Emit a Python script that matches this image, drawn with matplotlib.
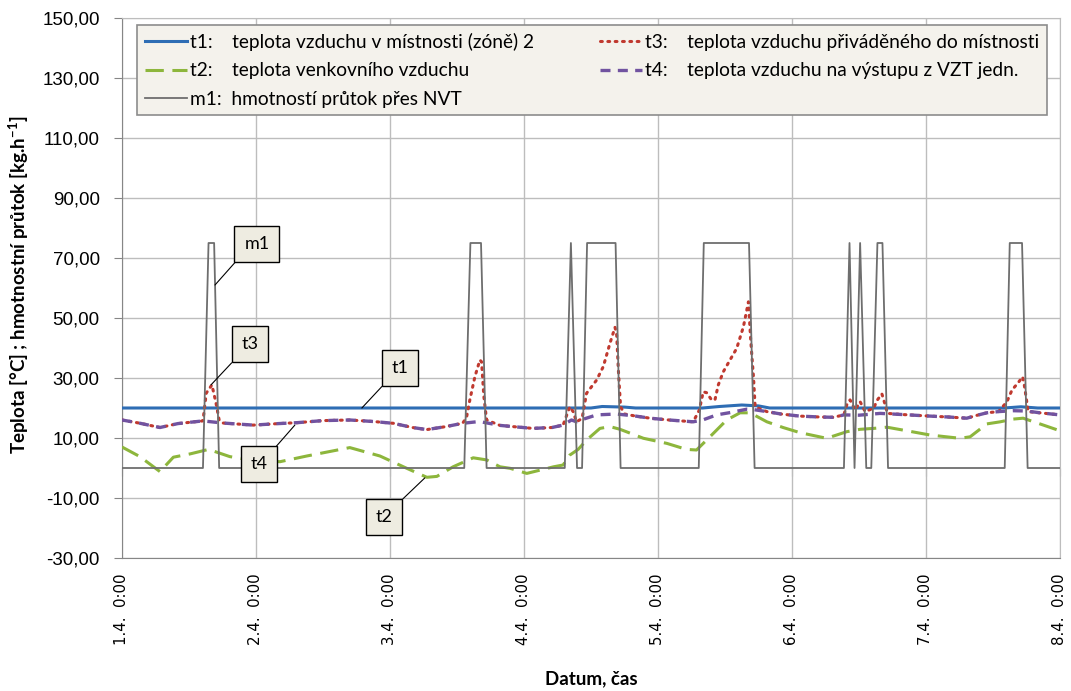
import numpy as np
import matplotlib
matplotlib.use("Agg")
import matplotlib.pyplot as plt
from matplotlib.lines import Line2D

# data (time in hours from 1.4. 0:00)
t1_h = [0, 84, 86, 90, 92, 104, 107, 111, 114, 116, 158, 161, 164, 168]
t1_v = [20, 20, 20.5, 20.3, 20, 20, 20.5, 21, 20.7, 20, 20, 20.4, 20, 20]

t2_h = [0, 3.2, 6.8, 9.2, 12.2, 15.5, 19.3, 22.9, 28.3, 33.1, 40.8, 46.2, 51, 54.6,
        56.4, 59.3, 62.9, 65.3, 67.7, 69.5, 72.5, 77.3, 79, 80.2, 81.7, 83.2, 85.6,
        87.4, 89.2, 93.4, 97.6, 101.1, 102.9, 105.3, 108.3, 110.7, 112.5, 115.5,
        118.4, 121.4, 126.2, 129.8, 132.2, 134.6, 137, 140.6, 144.7, 150.1, 151.9,
        154.9, 157.3, 159.6, 161.4, 164.4, 168]
t2_v = [7, 3.8, -1.2, 3.6, 4.7, 6.2, 3.8, 2.7, 2.1, 4, 6.8, 4, -0.1, -3.1,
        -2.8, 0.4, 3.4, 2.7, 0.4, -0.1, -1.8, 0.4, 1, 4.3, 6.2, 9.3, 13.2,
        13.8, 12.9, 9.9, 8.2, 6.2, 6, 10.4, 16, 18.4, 18.4, 15.4,
        13.5, 11.8, 9.9, 12.1, 12.9, 13.2, 13.6, 12.4, 11, 9.9, 10.4,
        14.7, 15.4, 16.3, 16.6, 14.7, 12.4]

t3_h = [0, 3, 6.8, 10, 14.5, 15.1, 16.1, 16.8, 17.4, 18, 23.5, 28, 31.3, 36, 40.8,
        45, 48.6, 52, 54.6, 58, 61, 61.7, 62.3, 63.2, 64.1, 64.4, 64.8, 65.3, 67.7,
        70, 73.6, 77, 79, 80.2, 80.8, 81.4, 82.4, 83.2, 85, 86.2, 87.4, 88.3, 88.6,
        88.9, 89.3, 90, 92, 94.6, 98, 102.3, 103.4, 104.1, 104.7, 105.6, 106.2,
        106.8, 107.7, 108.9, 110.1, 111.3, 112.2, 112.6, 113.1, 113.4, 115.5, 118,
        121.4, 125, 127.4, 129.3, 129.8, 130.4, 131.3, 132.2, 133.1, 134.6, 135.3,
        136.1, 136.7, 137.1, 140, 144.7, 148, 151.3, 153, 154.9, 157, 158.5, 159.4,
        160.5, 161.3, 161.6, 162, 162.3, 164.4, 168]
t3_v = [16, 15, 13.5, 14.8, 15.7, 25, 27.7, 22, 16, 15, 14.3, 14.8, 15.1, 15.8, 16,
        15.5, 14.9, 13.5, 12.8, 13.8, 14.9, 16.8, 22.7, 30.4, 36, 35.4, 24, 16, 14.2,
        13.8, 13.2, 13.5, 14.3, 20.4, 18.8, 15.4, 16.5, 24.9, 29.3, 33.8, 41.6, 46.9, 44.3,
        32.7, 20.4, 18, 17.3, 16.6, 16, 15.4, 19.3, 25.4, 25.1, 22.7, 22.7,
        27.7, 32.1, 36, 39.9, 47.1, 55.4, 42.7, 30.4, 20.4, 18.8, 18,
        17.3, 17, 16.9, 17.7, 21, 22.7, 19.3, 22.1, 18.8, 19.9, 22.7,
        24.7, 21, 18.2, 17.8, 17.3, 17, 16.6, 17.5, 18.4, 18.8, 22.1, 26,
        28.4, 30.4, 27.7, 22.7, 18.8, 18.4, 17.7]

t4_h = [0, 3, 6.8, 10, 14.5, 18, 23.5, 28, 31.3, 36, 40.8, 45, 48.6, 52, 54.6, 58,
        61, 64, 67.7, 70, 73.6, 77, 79, 80.5, 81.4, 83, 85, 88.6, 92, 94.6, 98,
        102.3, 104, 106.5, 109, 111.9, 113, 115.5, 118, 121.4, 125, 127.4, 129.3,
        132, 135.8, 140, 144.7, 148, 151.3, 153, 154.9, 157, 159.6, 162, 164.4, 168]
t4_v = [16, 15, 13.5, 14.8, 15.7, 15, 14.3, 14.8, 15.1, 15.8, 16, 15.5, 14.9, 13.5, 12.8, 13.8,
        14.9, 15.5, 14.2, 13.8, 13.2, 13.5, 14.3, 16, 15.4, 16.5, 17.7, 18, 17.3, 16.6, 16,
        15.4, 16, 17.7, 18.5, 19.6, 19.5, 18.8, 18, 17.3, 17, 16.9, 17.7,
        17.6, 18.2, 17.8, 17.3, 17, 16.6, 17.5, 18.4, 18.8, 19.1, 19, 18.4, 17.7]

m1_h = [0, 14.5, 15.5, 16.5, 17.4, 61.3, 62.4, 64.3, 65.3, 79.3, 80.4, 81.5, 82.4,
        83.3, 88.4, 89.3, 103.3, 104.2, 112.3, 113.3, 129.3, 130.3, 131.2, 132.2,
        133.3, 134.2, 135.3, 136.2, 137.2, 158.1, 159, 161.2, 162.2, 168]
m1_v = [0, 0, 75, 75, 0, 0, 75, 75, 0, 0, 75, 0, 0,
        75, 75, 0, 0, 75, 75, 0, 0, 75, 0, 75,
        0, 0, 75, 75, 0, 0, 75, 75, 0, 0]

day_labels = ["1.4.  0:00", "2.4.  0:00", "3.4.  0:00", "4.4.  0:00",
              "5.4.  0:00", "6.4.  0:00", "7.4.  0:00", "8.4.  0:00"]
y_ticks = [-30, -10, 10, 30, 50, 70, 90, 110, 130, 150]

legend_labels = ["t1:    teplota vzduchu v místnosti (zóně) 2",
                 "t2:    teplota venkovního vzduchu",
                 "m1:  hmotností průtok přes NVT",
                 "t3:    teplota vzduchu přiváděného do místnosti",
                 "t4:    teplota vzduchu na výstupu z VZT jedn."]

C_T1 = "#2E6DB4"
C_T2 = "#8DB63C"
C_T3 = "#C0392F"
C_T4 = "#7153A0"
C_M1 = "#6E6E6E"
TXT_FONT = ["Lato", "DejaVu Sans"]
NUM_FONT = ["Liberation Sans", "DejaVu Sans"]


def days(h):
    return np.array(h) / 24.0


fig = plt.figure(figsize=(10.71, 6.91), dpi=100)
ax = fig.add_axes([122 / 1071, 1 - 558 / 691, (1060 - 122) / 1071, 540 / 691])

ax.plot(days(t1_h), t1_v, color=C_T1, lw=2.2, zorder=3)
ax.plot(days(t2_h), t2_v, color=C_T2, lw=2.2, dashes=(6, 2.8), zorder=3)
ax.plot(days(t3_h), t3_v, color=C_T3, lw=2.2, linestyle=(0, (0.6, 1.8)),
        dash_capstyle="round", zorder=3)
ax.plot(days(t4_h), t4_v, color=C_T4, lw=2.4, dashes=(3, 2.2), zorder=4)
ax.plot(days(m1_h), m1_v, color=C_M1, lw=1.3, zorder=5)

ax.set_xlim(0, 7)
ax.set_ylim(-30, 150)
ax.set_xticks(range(8))
ax.set_xticklabels(day_labels, rotation=90, fontsize=10.8, family="DejaVu Sans")
ax.set_yticks(y_ticks)
ax.set_yticklabels([f"{v:.2f}".replace(".", ",") for v in y_ticks],
                   fontsize=13.5, family=NUM_FONT)
ax.tick_params(axis="x", length=0, pad=11)
ax.tick_params(axis="y", length=6, color="#868686", direction="out", pad=10)
ax.grid(True, color="#BDBDBD", lw=1)
ax.set_axisbelow(True)
for s in ax.spines.values():
    s.set_color("#BDBDBD")
ax.spines["left"].set_color("#868686")
ax.spines["bottom"].set_color("#868686")

# category axis crossing at 0 (ticks only)
sec = ax.secondary_xaxis(30 / 180)
sec.set_xticks(range(8))
sec.set_xticklabels([])
sec.tick_params(axis="x", direction="out", length=6, color="#868686")
sec.spines["bottom"].set_visible(False)

ax.set_ylabel(r"Teplota [°C] ; hmotnostní průtok [kg.h$^{\mathregular{-1}}$]",
              fontsize=13.5, fontweight="bold", family=TXT_FONT)
ax.yaxis.set_label_coords(-(122 - 31) / 938, 0.507)
ax.set_xlabel("Datum, čas", fontsize=13.5, fontweight="bold", family=TXT_FONT)
ax.xaxis.set_label_coords(0.5, -(670 - 558) / 540)

handles = [
    Line2D([], [], color=C_T1, lw=2.2),
    Line2D([], [], color=C_T2, lw=2.2, dashes=(6, 2.8)),
    Line2D([], [], color=C_M1, lw=1.3),
    Line2D([], [], color=C_T3, lw=2.2, linestyle=(0, (0.6, 1.8)), dash_capstyle="round"),
    Line2D([], [], color=C_T4, lw=2.4, dashes=(3, 2.2)),
]
leg = ax.legend(handles, legend_labels, ncol=2, loc="upper left",
                bbox_to_anchor=((137 - 122) / 938, 1 - 97 / 540, 910 / 938, 90 / 540),
                mode="expand", fancybox=False, framealpha=1, facecolor="#F4F2EC",
                edgecolor="#8C8C8C", prop={"family": TXT_FONT, "size": 13.8},
                handlelength=2.2, handletextpad=0.15, labelspacing=0.6,
                borderaxespad=0, borderpad=0.4)
leg.get_frame().set_linewidth(1.2)
leg.set_zorder(10)

# callouts: (label, box centre, target point) in (day, value)
callouts = [
    ("m1", (1.007, 74.7), (0.694, 61), (0, 0)),
    ("t3", (0.955, 41.2), (0.664, 27.7), (0, 0)),
    ("t1", (2.075, 33.3), (1.79, 20), (0, 0)),
    ("t4", (1.022, 1.2), (1.29, 14.3), (1, 1)),
    ("t2", (1.955, -16.3), (2.26, -3.3), (1, 1)),
]
for lab, xy_txt, xy_pt, rp in callouts:
    ax.annotate(lab, xy=xy_pt, xytext=xy_txt, ha="center", va="center",
                fontsize=13, family=TXT_FONT, zorder=8,
                bbox=dict(boxstyle="square,pad=0.55", fc="#EEECE1", ec="black", lw=1),
                arrowprops=dict(arrowstyle="-", color="black", lw=0.8,
                                relpos=rp, shrinkA=0, shrinkB=0))

fig.savefig("out.png", dpi=100)
